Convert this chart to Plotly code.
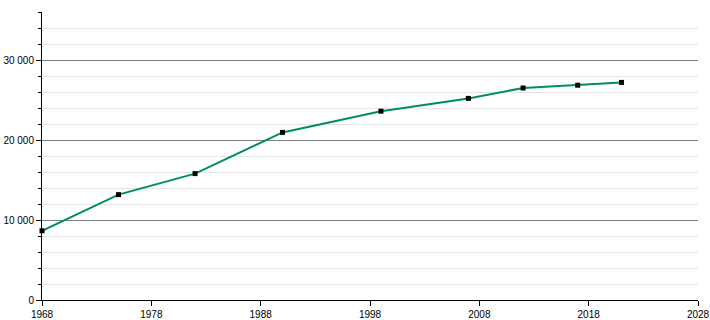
import plotly.graph_objects as go

years = [1968, 1975, 1982, 1990, 1999, 2007, 2012, 2017, 2021]
population = [8650, 13170, 15800, 20950, 23600, 25200, 26500, 26850, 27200]

x_ticks = [1968, 1978, 1988, 1998, 2008, 2018, 2028]

fig = go.Figure()
fig.add_trace(go.Scatter(
    x=years, y=population, mode="lines+markers",
    line=dict(color="#008c69", width=2),
    marker=dict(symbol="square", size=5, color="black"),
    showlegend=False, cliponaxis=False,
))

fig.update_layout(
    width=710, height=320,
    margin=dict(l=42, r=12, t=12, b=20),
    paper_bgcolor="white", plot_bgcolor="white",
    separators=". ",
    font=dict(family="Liberation Sans, Arial, sans-serif", size=10, color="black"),
    xaxis=dict(
        range=[1968, 2028], tickvals=x_ticks, ticktext=[str(t) for t in x_ticks],
        showgrid=False, zeroline=False, automargin=False,
        showline=True, linecolor="black", linewidth=1,
        ticks="outside", ticklen=5, tickcolor="black",
    ),
    yaxis=dict(
        range=[0, 36000], dtick=10000, tickformat=",d", automargin=False,
        showgrid=True, gridcolor="#808080", gridwidth=1,
        zeroline=False,
        showline=True, linecolor="black", linewidth=1,
        ticks="outside", ticklen=5, tickcolor="black",
        minor=dict(dtick=2000, showgrid=True, gridcolor="#e4e4e4", gridwidth=1,
                   ticks="outside", ticklen=3, tickcolor="black"),
    ),
)

fig.write_html("out.html")
